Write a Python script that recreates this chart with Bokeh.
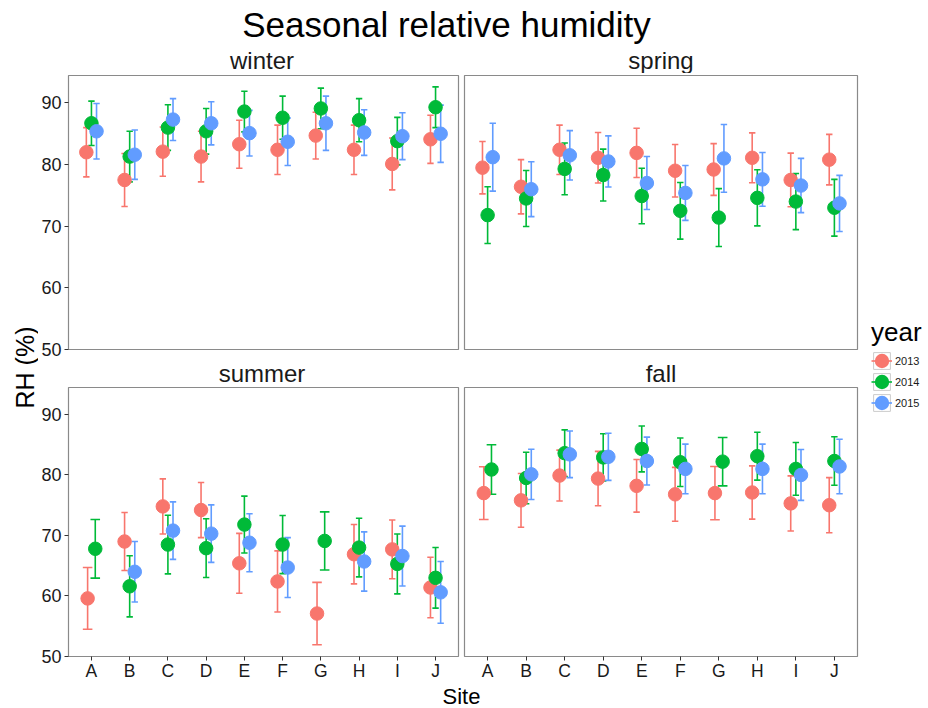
import math
from bokeh.plotting import figure
from bokeh.layouts import column, row
from bokeh.models import Range1d, FixedTicker, Label, Legend, LegendItem, ColumnDataSource
from bokeh.embed import file_html
from bokeh.resources import INLINE

NaN = float("nan")

sites = ["A", "B", "C", "D", "E", "F", "G", "H", "I", "J"]
years = ["2013", "2014", "2015"]
seasons = ["winter", "spring", "summer", "fall"]
colors = ["#F8766D", "#00BA38", "#619CFF"]
y_ticks = [50, 60, 70, 80, 90]

# mean RH (%) and error-bar half width, per season and year
winter_2013 = [82.0, 77.5, 82.1, 81.3, 83.3, 82.4, 84.7, 82.4, 80.1, 84.1]
winter_2013_err = [4.0, 4.3, 4.0, 4.1, 3.9, 4.0, 3.8, 4.0, 4.2, 3.9]
winter_2014 = [86.7, 81.3, 86.0, 85.4, 88.6, 87.6, 89.1, 87.2, 83.8, 89.3]
winter_2014_err = [3.6, 4.1, 3.7, 3.7, 3.3, 3.5, 3.3, 3.5, 3.85, 3.3]
winter_2015 = [85.4, 81.6, 87.3, 86.7, 85.1, 83.7, 86.7, 85.2, 84.6, 85.0]
winter_2015_err = [4.5, 4.0, 3.4, 3.5, 3.7, 3.85, 4.4, 3.7, 3.8, 4.65]

spring_2013 = [79.5, 76.4, 82.4, 81.1, 81.9, 79.0, 79.2, 81.1, 77.5, 80.8]
spring_2013_err = [4.25, 4.4, 4.0, 4.1, 4.0, 4.25, 4.2, 4.05, 4.35, 4.1]
spring_2014 = [71.8, 74.5, 79.3, 78.3, 74.9, 72.5, 71.4, 74.6, 74.0, 73.0]
spring_2014_err = [4.6, 4.55, 4.2, 4.2, 4.5, 4.6, 4.7, 4.55, 4.55, 4.6]
spring_2015 = [81.2, 76.0, 81.5, 80.5, 77.0, 75.4, 81.0, 77.6, 76.6, 73.7]
spring_2015_err = [5.5, 4.45, 4.0, 4.15, 4.3, 4.45, 5.5, 4.35, 4.4, 4.55]

summer_2013 = [59.6, 69.0, 74.8, 74.2, 65.4, 62.4, 57.1, 66.9, 67.7, 61.4]
summer_2013_err = [5.1, 4.8, 4.55, 4.55, 4.95, 5.05, 5.15, 4.9, 4.85, 5.0]
summer_2014 = [67.8, 61.6, 68.5, 67.9, 71.8, 68.5, 69.1, 68.0, 65.3, 63.0]
summer_2014_err = [4.85, 5.05, 4.85, 4.85, 4.7, 4.8, 4.8, 4.85, 4.95, 5.0]
summer_2015 = [NaN, 64.0, 70.8, 70.3, 68.8, 64.7, NaN, 65.7, 66.6, 60.6]
summer_2015_err = [NaN, 5.0, 4.75, 4.75, 4.8, 4.95, NaN, 4.9, 4.95, 5.1]

fall_2013 = [77.0, 75.8, 79.9, 79.4, 78.2, 76.8, 77.0, 77.1, 75.3, 75.0]
fall_2013_err = [4.35, 4.45, 4.2, 4.5, 4.35, 4.45, 4.4, 4.4, 4.55, 4.55]
fall_2014 = [80.9, 79.5, 83.6, 82.9, 84.3, 82.1, 82.2, 83.1, 81.0, 82.3]
fall_2014_err = [4.1, 4.25, 3.85, 3.9, 3.8, 4.0, 4.0, 3.95, 4.35, 4.0]
fall_2015 = [NaN, 80.1, 83.4, 83.0, 82.3, 81.0, NaN, 81.0, 80.0, 81.4]
fall_2015_err = [NaN, 4.15, 3.85, 3.9, 3.95, 4.1, NaN, 4.1, 4.2, 4.5]

data = {
    "winter": ([winter_2013, winter_2014, winter_2015], [winter_2013_err, winter_2014_err, winter_2015_err]),
    "spring": ([spring_2013, spring_2014, spring_2015], [spring_2013_err, spring_2014_err, spring_2015_err]),
    "summer": ([summer_2013, summer_2014, summer_2015], [summer_2013_err, summer_2014_err, summer_2015_err]),
    "fall": ([fall_2013, fall_2014, fall_2015], [fall_2013_err, fall_2014_err, fall_2015_err]),
}

DODGE = 0.4
EB_WIDTH = 0.5
FONT = "Liberation Sans"
FRAME_W = 393


def text_label(x, y, text, size, color="black", angle=0.0):
    # y is the vertical middle of the em box, in screen px from the frame bottom
    return Label(x=x, y=y, x_units="screen", y_units="screen", text=text, angle=angle,
                 text_font=FONT, text_font_size=size, text_align="center",
                 text_baseline="middle", text_color=color)


def make_panel(season, show_x, show_y, width, height, bl, br, bt, bb):
    p = figure(width=width, height=height, x_range=Range1d(0.4, 10.6), y_range=Range1d(50, 94.45),
               output_backend="svg", toolbar_location=None,
               x_axis_location="below" if show_x else None,
               y_axis_location="left" if show_y else None,
               min_border_left=bl, min_border_right=br, min_border_top=bt, min_border_bottom=bb)
    p.xgrid.visible = False
    p.ygrid.visible = False
    p.outline_line_color = "#8a8a8a"
    p.outline_line_width = 1.2
    p.background_fill_color = "white"
    p.border_fill_color = "white"
    means, errs = data[season]
    # dodge positions per site
    xs = [[None] * len(sites) for _ in years]
    caps = [[None] * len(sites) for _ in years]
    for i in range(len(sites)):
        present = [k for k in range(len(years)) if not math.isnan(means[k][i])]
        n = len(present)
        for j, k in enumerate(present):
            xs[k][i] = (i + 1) + DODGE * ((j + 0.5) / n - 0.5)
            caps[k][i] = EB_WIDTH / n / 2
    # error bars first
    for k in range(len(years)):
        x0, x1, y0, y1 = [], [], [], []
        for i in range(len(sites)):
            if xs[k][i] is None:
                continue
            x = xs[k][i]
            lo = means[k][i] - errs[k][i]
            hi = means[k][i] + errs[k][i]
            c = caps[k][i]
            x0 += [x, x - c, x - c]
            x1 += [x, x + c, x + c]
            y0 += [lo, lo, hi]
            y1 += [hi, lo, hi]
        p.segment(x0=x0, y0=y0, x1=x1, y1=y1, line_color=colors[k], line_width=1.6, line_cap="butt")
    for k in range(len(years)):
        px = [xs[k][i] for i in range(len(sites)) if xs[k][i] is not None]
        py = [means[k][i] for i in range(len(sites)) if xs[k][i] is not None]
        p.scatter(px, py, size=13.5, fill_color=colors[k], line_color=colors[k], line_width=1)
    if show_y:
        ax = p.yaxis[0]
        ax.ticker = FixedTicker(ticks=y_ticks)
        ax.axis_line_color = None
        ax.major_tick_in = 0
        ax.major_tick_out = 4
        ax.major_tick_line_color = "#333333"
        ax.minor_tick_line_color = None
        ax.major_label_standoff = 3
        ax.major_label_text_font = FONT
        ax.major_label_text_font_size = "18px"
        ax.major_label_text_color = "#1a1a1a"
    if show_x:
        ax = p.xaxis[0]
        ax.ticker = FixedTicker(ticks=list(range(1, len(sites) + 1)))
        ax.major_label_overrides = {i + 1: s for i, s in enumerate(sites)}
        ax.axis_line_color = None
        ax.major_tick_in = 0
        ax.major_tick_out = 4
        ax.major_tick_line_color = "#333333"
        ax.minor_tick_line_color = None
        ax.major_label_standoff = 0
        ax.major_label_text_font = FONT
        ax.major_label_text_font_size = "17.5px"
        ax.major_label_text_color = "#1a1a1a"
    return p


def blank(width, height):
    p = figure(width=width, height=height, x_range=Range1d(0, 1), y_range=Range1d(0, 1),
               output_backend="svg", toolbar_location=None, x_axis_location=None, y_axis_location=None,
               min_border=0, min_border_left=0, min_border_right=0, min_border_top=0, min_border_bottom=0)
    p.xgrid.visible = False
    p.ygrid.visible = False
    p.outline_line_color = None
    p.background_fill_color = "white"
    p.border_fill_color = "white"
    return p


LEFT_W = 38
TL_W = 27 + FRAME_W + 3
TR_W = 3 + FRAME_W + 3
LEG_W = 928 - LEFT_W - TL_W - TR_W
HEAD_H = 73
TOP_H = 2 + 274 + 10
MID_H = 27
BOT_H = 1 + 273 + 23
SITE_H = 708 - HEAD_H - TOP_H - MID_H - BOT_H
MIDDLE_H = TOP_H + MID_H + BOT_H
MIDDLE_BOTTOM = HEAD_H + MIDDLE_H

header = blank(928, HEAD_H)
header.add_layout(text_label(446, HEAD_H - 23.6, "Seasonal relative humidity", "35px"))
for s, cx in [("winter", LEFT_W + 27 + FRAME_W / 2), ("spring", LEFT_W + TL_W + 3 + FRAME_W / 2)]:
    header.add_layout(text_label(cx, HEAD_H - 59.6, s, "24px", "#1a1a1a"))

p_winter = make_panel("winter", False, True, TL_W, TOP_H, 27, 3, 2, 10)
p_spring = make_panel("spring", False, False, TR_W, TOP_H, 3, 3, 2, 10)
p_summer = make_panel("summer", True, True, TL_W, BOT_H, 27, 3, 1, 23)
p_fall = make_panel("fall", True, False, TR_W, BOT_H, 3, 3, 1, 23)

mid = blank(TL_W + TR_W, MID_H)
for s, cx in [("summer", 27 + FRAME_W / 2), ("fall", TL_W + 3 + FRAME_W / 2)]:
    mid.add_layout(text_label(cx, MID_H / 2, s, "24px", "#1a1a1a"))

ylab = blank(LEFT_W, MIDDLE_H)
ylab.add_layout(text_label(24, MIDDLE_BOTTOM - 367, "RH (%)", "25px", angle=math.pi / 2))

leg = blank(LEG_W, MIDDLE_H)
items = []
for k, yr in enumerate(years):
    empty = ColumnDataSource(dict(x=[NaN], y=[NaN], l=[NaN], r=[NaN], t=[NaN], b=[NaN]))
    r_box = leg.quad(left="l", right="r", top="t", bottom="b", source=empty,
                     fill_color="white", line_color="#cccccc", line_width=1)
    r_seg = leg.segment(x0="x", y0="y", x1="x", y1="y", source=empty, line_color=colors[k], line_width=1.6)
    r_pt = leg.scatter(x="x", y="y", source=empty, size=8, fill_color=colors[k], line_color=colors[k],
                       line_width=6)
    items.append(LegendItem(label=yr, renderers=[r_box, r_seg, r_pt]))
legend = Legend(items=items, location=(11, MIDDLE_BOTTOM - 413), title="year", title_text_font=FONT,
                title_text_font_size="26px", title_text_font_style="normal", title_text_color="black",
                title_standoff=2,
                label_text_font=FONT, label_text_font_size="11px", label_text_color="#1a1a1a",
                glyph_width=21, glyph_height=21, label_height=21, label_standoff=3, spacing=0,
                padding=0, margin=0, border_line_color=None, background_fill_alpha=0)
leg.add_layout(legend, "center")

site = blank(928, SITE_H)
site.add_layout(text_label(461, 708 - 695.6, "Site", "22px"))

panels = column(row(p_winter, p_spring), mid, row(p_summer, p_fall))
layout = column(header, row(ylab, panels, leg), site)

open("out.html", "w").write(file_html(layout, INLINE))
